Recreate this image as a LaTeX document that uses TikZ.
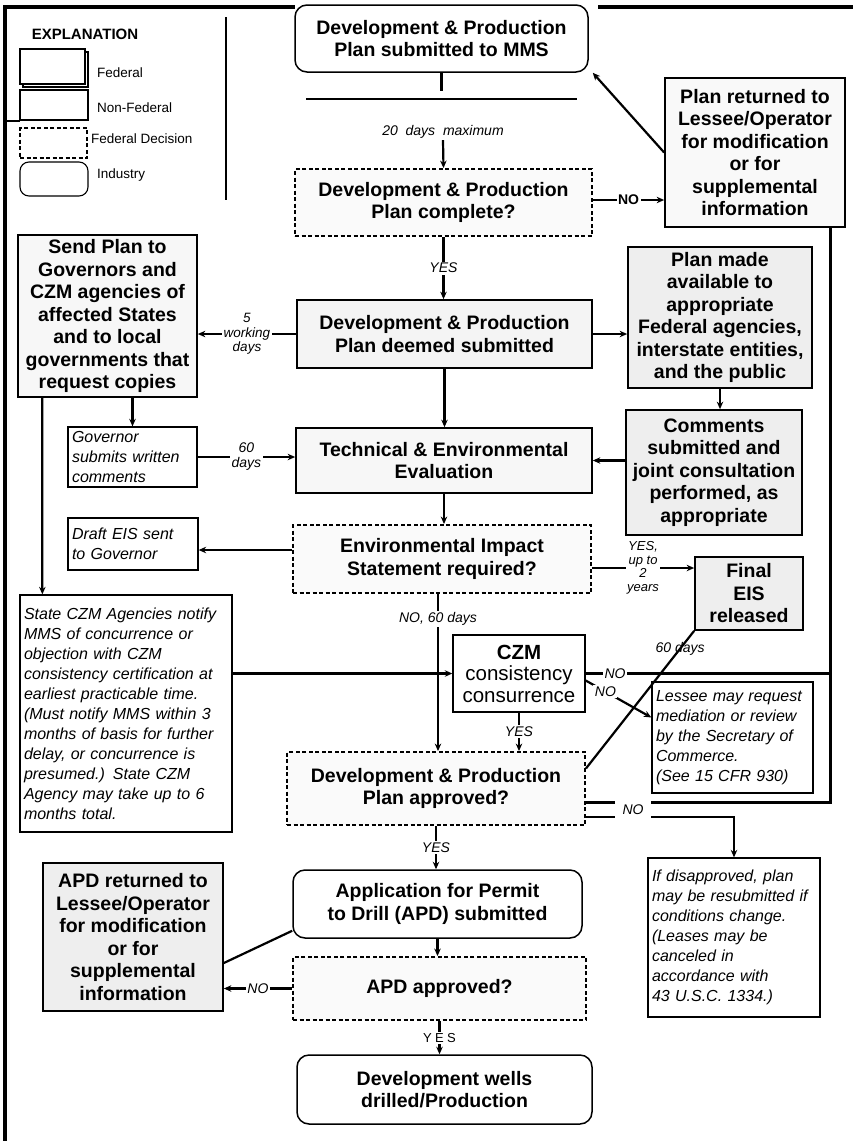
\documentclass[tikz,border=0pt]{standalone}
\usepackage{fontspec}
\setmainfont{Liberation Sans}
\usetikzlibrary{arrows.meta}
\begin{document}
\begin{tikzpicture}[x=1pt,y=-1pt,
  font=\fontsize{19.5}{22.5}\selectfont\bfseries,
  fedbox/.style={draw, line width=1.7pt, fill=gray!9, align=center, inner sep=0pt},
  decbox/.style={draw, dash pattern=on 4pt off 2.5pt, line width=1.9pt, fill=gray!4, align=center, inner sep=0pt},
  nfbox/.style={draw, line width=1.3pt, fill=white, align=left, inner xsep=4pt, inner ysep=0pt, font=\fontsize{16}{20}\selectfont\itshape},
  indbox/.style={draw, rounded corners=12pt, line width=1.5pt, fill=white, align=center, inner sep=0pt},
  conn/.style={line width=2.2pt},
  loopline/.style={line width=3pt},
  arr/.style={conn, -{Stealth[length=7.5pt,width=6.5pt]}},
  lbl/.style={font=\fontsize{14}{15}\selectfont\itshape, fill=white, inner sep=1.5pt, align=center},
  legtxt/.style={font=\fontsize{13.5}{14}\selectfont, anchor=west, inner sep=0pt},
]
\useasboundingbox (0,0) rectangle (853,1141);

% ---------- frame ----------
\draw[line width=3.5pt] (5,1141) -- (5,7) -- (295,7);
\draw[line width=3.5pt] (598,7) -- (853,7);
\draw[line width=1.8pt] (226,17) -- (226,200);
\draw[line width=1.4pt] (5,121) -- (20,121);

% ---------- legend ----------
\node[font=\fontsize{15}{15}\selectfont\bfseries] (lgt) at (85,34) {EXPLANATION};
\draw[line width=1.1pt] (23,52) rectangle (88,87);
\node[draw, line width=1.1pt, fill=white, minimum width=65pt, minimum height=35pt, inner sep=0pt] (lg1) at (52.5,66.5) {};
\node[legtxt] (lg1t) at (97,73) {Federal};
\node[draw, line width=1.1pt, minimum width=68pt, minimum height=30pt, inner sep=0pt] (lg2) at (54,105) {};
\node[legtxt] (lg2t) at (97,108) {Non-Federal};
\node[draw, dash pattern=on 4pt off 2.5pt, line width=1.7pt, minimum width=67pt, minimum height=30pt, inner sep=0pt] (lg3) at (53.5,143) {};
\node[legtxt] (lg3t) at (91,139) {Federal Decision};
\node[draw, rounded corners=9pt, line width=1.1pt, minimum width=68pt, minimum height=34pt, inner sep=0pt] (lg4) at (54,179) {};
\node[legtxt] (lg4t) at (97,175) {Industry};

% ---------- nodes ----------
\node[indbox, minimum width=293pt, minimum height=67pt] (top) at (441.5,38.5) {Development \& Production\\Plan submitted to MMS};
\node[decbox, minimum width=297pt, minimum height=67pt] (dec1) at (443.5,202.5) {Development \& Production\\Plan complete?};
\node[fedbox, fill=gray!5, minimum width=180pt, minimum height=149pt] (ret) at (755,152.5) {Plan returned to\\Lessee/Operator\\for modification\\or for\\supplemental\\information};
\node[fedbox, minimum width=295pt, minimum height=68pt] (deemed) at (444.5,334) {Development \& Production\\Plan deemed submitted};
\node[fedbox, fill=gray!6, minimum width=179pt, minimum height=162pt] (send) at (107.5,316) {Send Plan to\\Governors and\\CZM agencies of\\affected States\\and to local\\governments that\\request copies};
\node[fedbox, fill=gray!13, minimum width=184pt, minimum height=141pt] (made) at (720,317.5) {Plan made\\available to\\appropriate\\Federal agencies,\\interstate entities,\\and the public};
\node[fedbox, fill=gray!13, minimum width=176pt, minimum height=125pt] (comm) at (714,472.5) {Comments\\submitted and\\joint consultation\\performed, as\\appropriate};
\node[nfbox, text width=121pt, minimum height=60pt] (gov) at (132.5,457) {Governor\\submits written\\comments};
\node[fedbox, fill=gray!6, minimum width=296pt, minimum height=65pt] (tech) at (444,460.5) {Technical \& Environmental\\Evaluation};
\node[decbox, minimum width=298pt, minimum height=68pt] (eis) at (442,559) {Environmental Impact\\Statement required?};
\node[nfbox, text width=122pt, minimum height=52pt] (draft) at (133,544) {Draft EIS sent\\to Governor};
\node[fedbox, fill=gray!13, minimum width=108pt, minimum height=73pt] (final) at (749,593.5) {Final\\EIS\\released};
\node[nfbox, text width=204pt, minimum height=237pt] (state) at (126,713.5) {State CZM Agencies notify\\MMS of concurrence or\\objection with CZM\\consistency certification at\\earliest practicable time.\\(Must notify MMS within 3\\months of basis for further\\delay, or concurrence is\\presumed.) State CZM\\Agency may take up to 6\\months total.};
\node[draw, line width=1.4pt, fill=white, align=center, inner sep=0pt, minimum width=132pt, minimum height=77pt, font=\fontsize{20.5}{21.5}\selectfont] (czm) at (519,673.5) {{\bfseries CZM}\\consistency\\consurrence};
\node[nfbox, text width=153pt, minimum height=111pt] (lessee) at (732.5,737.5) {Lessee may request\\mediation or review\\by the Secretary of\\Commerce.\\(See 15 CFR 930)};
\node[decbox, minimum width=298pt, minimum height=73pt] (appr) at (436,788.5) {Development \& Production\\Plan approved?};
\node[nfbox, text width=164pt, minimum height=159pt] (disap) at (734,937.5) {If disapproved, plan\\may be resubmitted if\\conditions change.\\(Leases may be\\canceled in\\accordance with\\43 U.S.C. 1334.)};
\node[indbox, minimum width=289pt, minimum height=68pt] (apdsub) at (437.5,904) {Application for Permit\\to Drill (APD) submitted};
\node[decbox, minimum width=293pt, minimum height=63pt] (apdappr) at (439.5,988.5) {APD approved?};
\node[fedbox, fill=gray!13, minimum width=180pt, minimum height=148pt] (apdret) at (133,937) {APD returned to\\Lessee/Operator\\for modification\\or for\\supplemental\\information};
\node[indbox, minimum width=295pt, minimum height=69pt] (wells) at (444.5,1089.5) {Development wells\\drilled/Production};

\coordinate (rbot) at (830,802);

% ---------- connectors ----------
\draw[conn] (top.south) -- ++(0,18);
\draw[conn] (306,99) -- (577,99);
\node[lbl, font=\fontsize{14}{15}\selectfont\itshape] (d20) at (443,132) {20\ \ days\ \ maximum};
\draw[arr] (d20.south) -- (dec1.north);

\draw[arr] ([yshift=2.5pt]dec1.east) -- node[lbl, font=\fontsize{14}{15}\selectfont\bfseries]{NO} ([yshift=2.5pt]dec1.east -| ret.west);
\draw[arr] (ret.west) -- ([xshift=4pt]top.south east);

\draw[arr] (dec1.south) -- node[lbl]{YES} (dec1.south |- deemed.north);
\draw[arr] (deemed.west) -- node[lbl, font=\fontsize{13.5}{14.5}\selectfont\itshape]{5\\working\\days} (deemed.west -| send.east);
\draw[arr] (deemed.east) -- (deemed.east -| made.west);
\draw[arr] (deemed.south) -- (deemed.south |- tech.north);
\draw[arr] (gov.north |- send.south) -- (gov.north);
\draw[arr] (gov.east) -- node[lbl]{60\\days} (gov.east -| tech.west);
\draw[arr] (made.south) -- (made.south |- comm.north);
\draw[arr] (comm.west |- tech.east) -- (tech.east);
\draw[arr] (tech.south) -- (tech.south |- eis.north);
\draw[arr] ([yshift=9pt]eis.west) -- ([yshift=9pt]eis.west -| draft.east);
\draw[arr] ([yshift=-9pt]eis.east) -- node[lbl, font=\fontsize{13}{13.5}\selectfont\itshape]{YES,\\up to\\2\\years} ([yshift=-9pt]eis.east -| final.west);
\draw[conn] (final.south west) -- node[pos=0.13, font=\fontsize{14}{15}\selectfont\itshape]{60 days} ([yshift=20pt]appr.east);
\draw[arr] ([xshift=-4pt]eis.south) -- node[lbl, pos=0.16]{NO, 60 days} ([xshift=-4pt]eis.south |- appr.north);
\draw[arr] ([xshift=25pt]send.south west) -- ([xshift=23pt]state.north west);
\draw[arr] (state.east |- czm.west) -- (czm.west);
\draw[arr] (czm.south) -- node[lbl]{YES} (czm.south |- appr.north);
\draw[conn] (czm.east) -- node[lbl, pos=0.12]{NO} (czm.east -| rbot);
\draw[arr] ([yshift=-7pt]czm.east) -- node[lbl, pos=0.3]{NO} ([yshift=20pt]lessee.west);
\draw[loopline] ([yshift=-13.5pt]appr.east) -- (rbot) -- (rbot |- ret.south);
\draw[arr] ([yshift=-28.5pt]appr.east) -- ([yshift=-28.5pt]appr.east -| disap.north) -- (disap.north);
\node[fill=white, minimum width=36pt, minimum height=22pt, inner sep=0pt, font=\fontsize{14}{15}\selectfont\itshape] (nolbl) at (633,809.5) {NO};
\draw[arr] (appr.south) -- node[lbl]{YES} (appr.south |- apdsub.north);
\draw[arr] (apdsub.south) -- (apdsub.south |- apdappr.north);
\draw[arr] (apdappr.west) -- node[lbl]{NO} (apdappr.west -| apdret.east);
\draw[conn] ([yshift=-26pt]apdret.east) -- ([yshift=8pt]apdsub.south west);
\draw[arr] (apdappr.south) -- node[lbl, font=\fontsize{13}{14}\selectfont\addfontfeature{LetterSpace=25}]{YES} (apdappr.south |- wells.north);
\end{tikzpicture}
\end{document}
